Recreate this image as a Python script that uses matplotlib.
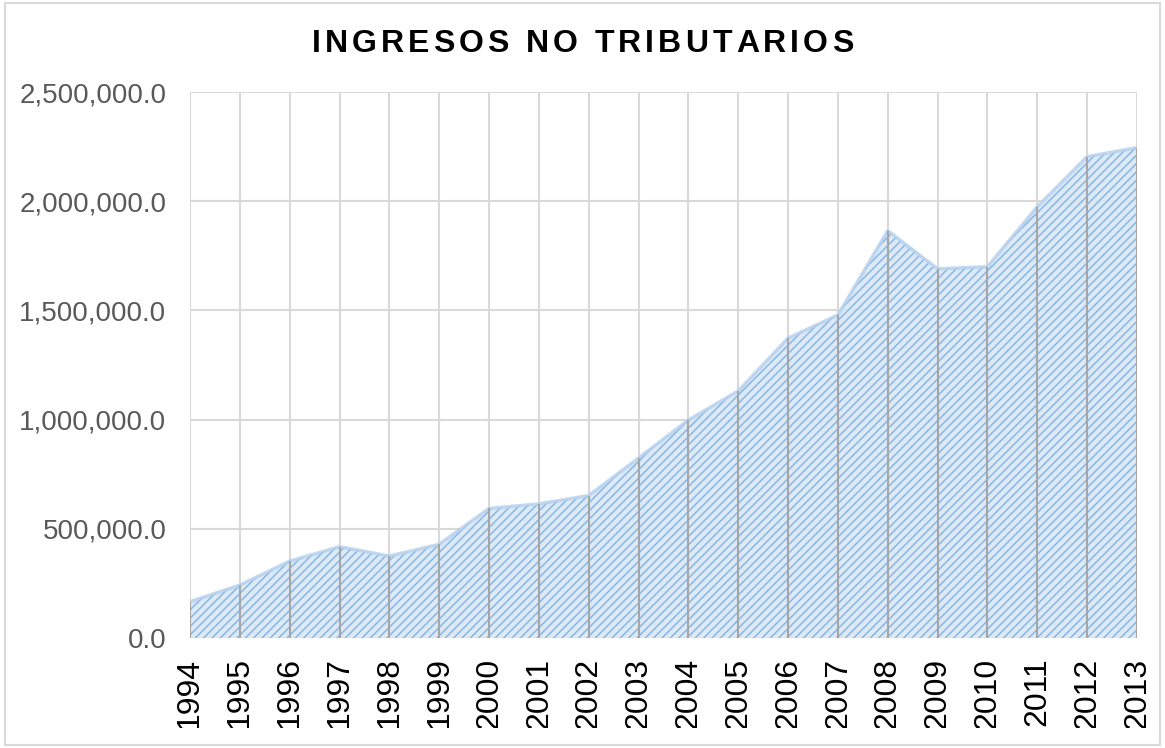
import matplotlib.pyplot as plt
from matplotlib.ticker import FuncFormatter, MultipleLocator
from matplotlib.patches import Rectangle
from matplotlib.transforms import Bbox

plt.rcParams['font.family'] = ['Liberation Sans', 'DejaVu Sans']
plt.rcParams['hatch.color'] = '#7fb1e3'
plt.rcParams['hatch.linewidth'] = 1.1

years = list(range(1994, 2014))
ingresos = [166000, 242000, 352000, 418000, 375000, 429000, 593000, 614000,
            652000, 824000, 998000, 1131000, 1373000, 1479000, 1865000,
            1690000, 1700000, 1975000, 2204000, 2245000]
titulo = 'INGRESOS NO TRIBUTARIOS'

W, H = 1165, 748
fig = plt.figure(figsize=(W / 100, H / 100), dpi=100)
ax = fig.add_axes([190 / W, 1 - 638 / H, (1137 - 190) / W, (638 - 92) / H])

# marco exterior
fig.patches.append(Rectangle((0.004, 0.004), 0.992, 0.992, transform=fig.transFigure,
                             fill=False, edgecolor='#d9d9d9', linewidth=1.5))

ax.fill_between(years, ingresos, 0, facecolor='#dae8f6', edgecolor='#7fb1e3',
                hatch='////', linewidth=0, alpha=0.9, zorder=2)
ax.plot(years, ingresos, color='#b3cfee', linewidth=2.5, alpha=0.8, zorder=3)
ax.vlines(years, 0, ingresos, colors='#a6a6a6', linewidth=1.5, zorder=4)

ax.set_xlim(1994, 2013)
ax.set_ylim(0, 2500000)
ax.yaxis.set_major_locator(MultipleLocator(500000))
ax.yaxis.set_major_formatter(FuncFormatter(lambda v, p: f'{v:,.1f}'))
ax.set_xticks(years)
ax.set_xticklabels([str(y) for y in years], rotation=90, fontsize=23, color='black')
ax.tick_params(axis='y', labelsize=20, labelcolor='#595959', length=0, pad=17)
ax.tick_params(axis='x', length=0, pad=14)

ax.grid(True, color='#d9d9d9', linewidth=1.5, zorder=0)
ax.set_axisbelow(True)
for s in ax.spines.values():
    s.set_visible(False)

# titulo con espaciado entre letras
fig.canvas.draw()
r = fig.canvas.get_renderer()
track = 4.0
chars = []
widths = []
for ch in titulo:
    t = fig.text(0, 0, ch, fontsize=23, fontweight='bold', va='baseline', ha='left')
    widths.append(t.get_window_extent(r).width if ch != ' ' else 0)
    chars.append(t)
sp = fig.text(0, 0, 'a a', fontsize=23, fontweight='bold')
sp2 = fig.text(0, 0, 'aa', fontsize=23, fontweight='bold')
space_w = sp.get_window_extent(r).width - sp2.get_window_extent(r).width
sp.remove()
sp2.remove()
widths = [w if ch != ' ' else space_w for w, ch in zip(widths, titulo)]
total = sum(widths) + track * (len(titulo) - 1)
x = W / 2 - total / 2
for t, w in zip(chars, widths):
    t.set_position((x / W, 1 - 52 / H))
    x += w + track

clip = Bbox.from_extents(0, 20, W, H)
for lbl in ax.get_xticklabels():
    lbl.set_clip_on(True)
    lbl.set_clip_box(clip)

fig.savefig('out.png', dpi=100)
